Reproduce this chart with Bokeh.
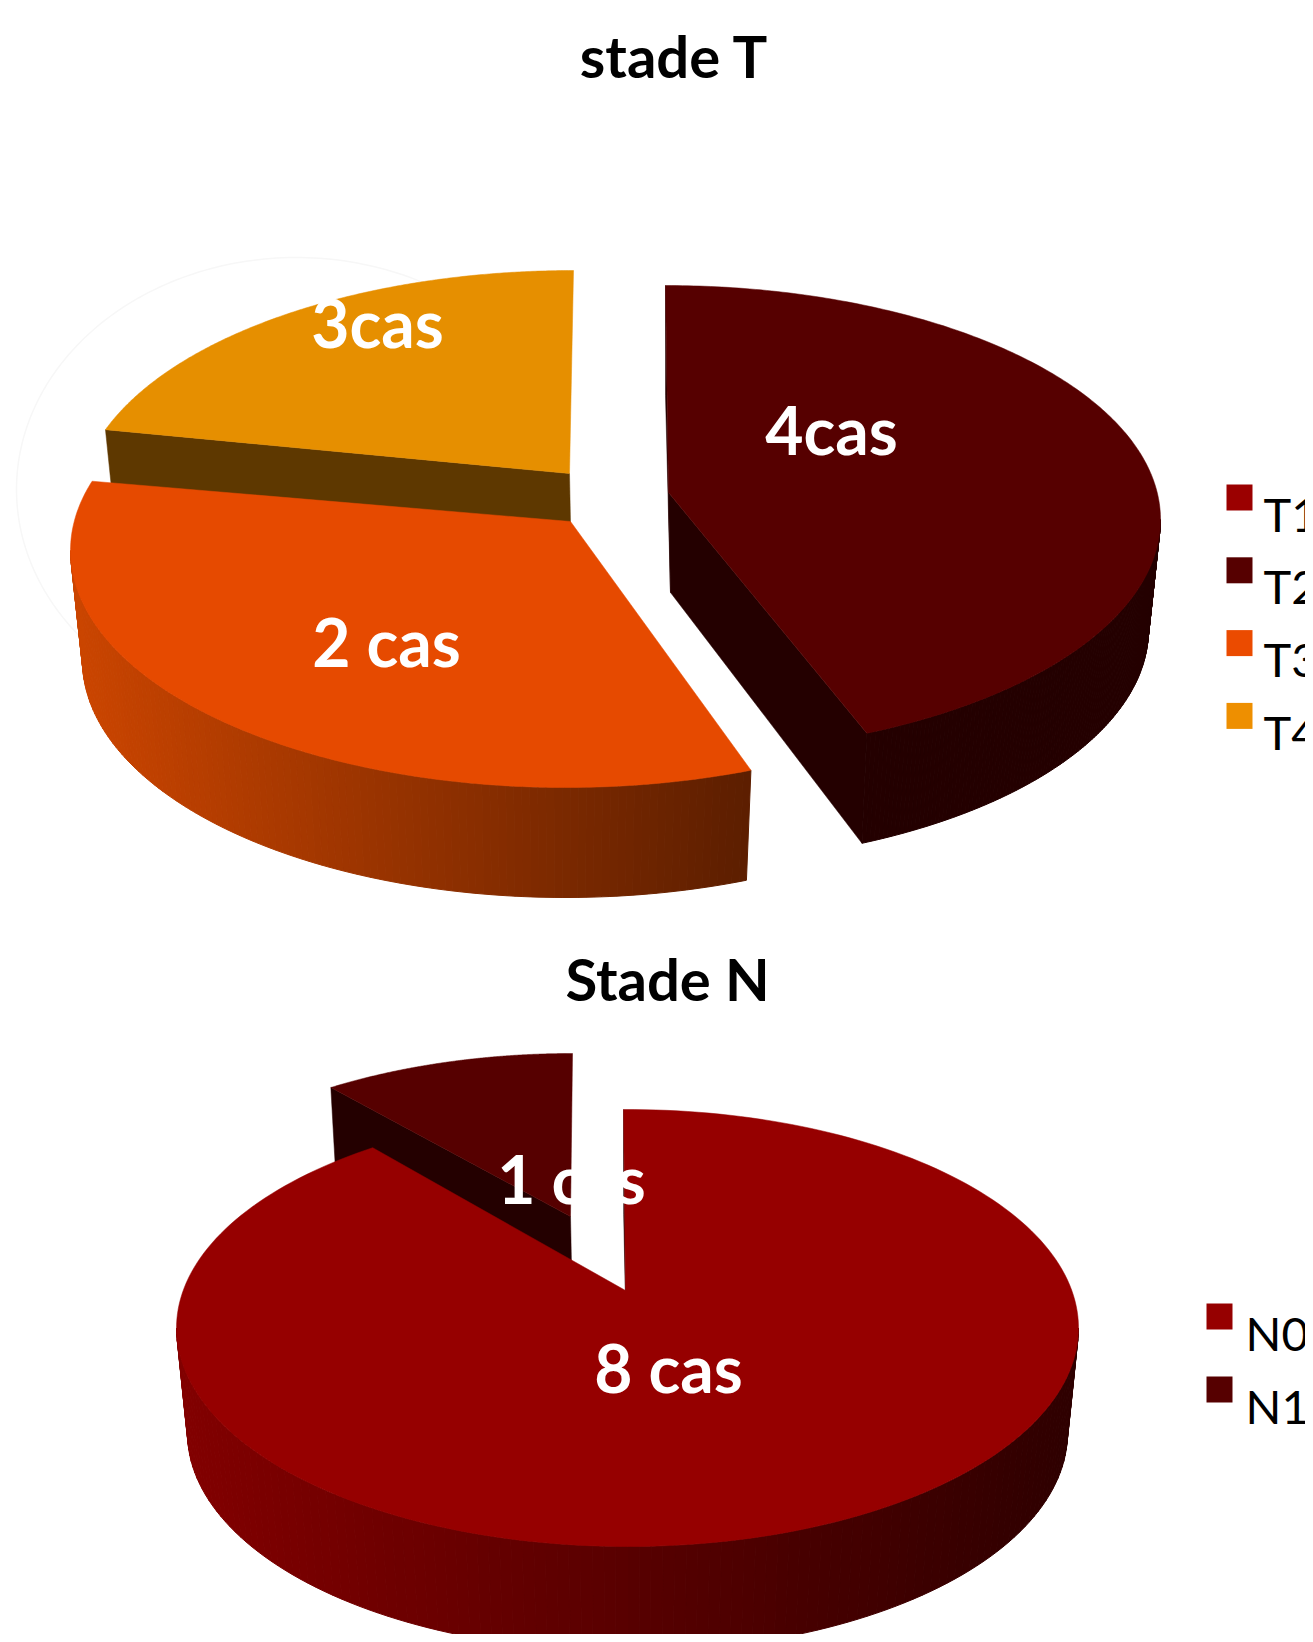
import numpy as np
from bokeh.plotting import figure
from bokeh.models import Range1d
from bokeh.core.properties import value
from bokeh.embed import file_html
from bokeh.resources import INLINE

# ---- data ----
T_NAMES = ["T1", "T2", "T3", "T4"]
T_VALUES = [0, 3.925, 3.25, 1.825]
T_LABELS = ["", "4cas", "2 cas", "3cas"]
T_COLORS = ["#9B0000", "#560000", "#E64A00", "#E68F00"]
T_LEGEND = ["#9B0000", "#560000", "#EB4B00", "#EE8F00"]
N_NAMES = ["N0", "N1"]
N_VALUES = [8.14, 0.86]
N_LABELS = ["8 cas", "1 cas"]
N_COLORS = ["#960000", "#560000"]
N_LEGEND = ["#960000", "#560000"]
TITLE_T = "stade T"
TITLE_N = "Stade N"

W, H = 1305, 1634
p = figure(width=W, height=H, output_backend="svg", toolbar_location=None,
           x_range=Range1d(8, 1313), y_range=Range1d(1642, 8),
           min_border=0, outline_line_color=None, background_fill_color="white")
p.axis.visible = False
p.grid.visible = False


def hex2rgb(h):
    return np.array([int(h[i:i + 2], 16) for i in (1, 3, 5)], float)


def mix(a, b, f):
    c = hex2rgb(a) * (1 - f) + hex2rgb(b) * f
    return "#%02x%02x%02x" % tuple(int(round(v)) for v in c)


def pts(cx, cy, rx, ry, t):
    t = np.radians(t)
    return cx + rx * np.sin(t), cy - ry * np.cos(t)


def draw_slice(val_start, val_end, total, g, color, wall_left, wall_right, cut_color, start_face, end_face):
    t0 = val_start / total * 360 + g["nudge"][0]
    t1 = val_end / total * 360 + g["nudge"][1]
    cx, cy = g["c"]
    ax, ay = g["apex"]
    rx, ry, rxb, drop = g["rx"], g["ry"], g["rxb"], g["drop"]
    abx, aby = ax + 2, ay + g["adrop"]
    ts = np.linspace(t0, t1, 240)
    # cut faces, seen only when they turn towards the viewer
    for on, t in ((start_face, t0), (end_face, t1)):
        if on:
            x, y = pts(cx, cy, rx, ry, t)
            xb, yb = pts(cx, cy + drop, rxb, ry, t)
            p.patch([ax, x, xb, abx], [ay, y, yb, aby], fill_color=cut_color,
                    line_color=cut_color, line_width=0.5)
    # outer wall: narrow strips shaded from left to right
    a, b = max(t0, 90), min(t1, 270)
    if b > a and wall_left:
        edges = np.linspace(a, b, 121)
        xs, ys, cols = [], [], []
        xl, xr = cx - rx, cx + g["shade_right"]
        for e0, e1 in zip(edges[:-1], edges[1:]):
            x0, y0 = pts(cx, cy, rx, ry, e0)
            x1, y1 = pts(cx, cy, rx, ry, e1)
            x2, y2 = pts(cx, cy + drop, rxb, ry, e1)
            x3, y3 = pts(cx, cy + drop, rxb, ry, e0)
            xs.append([x0, x1, x2, x3])
            ys.append([y0, y1, y2, y3])
            f = np.clip(((x0 + x1) / 2 - xl) / (xr - xl), 0, 1)
            cols.append(mix(wall_left, wall_right, f))
        p.patches(xs, ys, fill_color=cols, line_color=cols, line_width=1)
    # top surface
    x, y = pts(cx, cy, rx, ry, ts)
    p.patch(np.r_[ax, x], np.r_[ay, y], fill_color=color, line_color=color, line_width=0.5)


# faint ring behind the upper pie
rt = np.linspace(175, 425, 200)
rx_, ry_ = pts(304, 497, 280, 232, rt)
p.line(rx_, ry_, line_color="#f7f7f7", line_width=1.5)

T_TOTAL = sum(T_VALUES)
cum = np.cumsum([0] + T_VALUES)
T_GEOM = {
    1: dict(c=(673, 527), apex=(676, 500), rx=495, ry=234, rxb=483, drop=110, adrop=100, nudge=(0, -1), shade_right=0),
    2: dict(c=(573, 558), apex=(578, 529), rx=495, ry=237, rxb=483, drop=110, adrop=100, nudge=(1, 0), shade_right=185),
    3: dict(c=(581, 514), apex=(577, 481), rx=495, ry=236, rxb=483, drop=110, adrop=100, nudge=(2, 0), shade_right=0),
}
# back to front
draw_slice(cum[3], cum[4], T_TOTAL, T_GEOM[3], T_COLORS[3], None, None, "#5E3800", True, False)
draw_slice(cum[2], cum[3], T_TOTAL, T_GEOM[2], T_COLORS[2], "#CB4500", "#5C1E00", None, False, False)
draw_slice(cum[1], cum[2], T_TOTAL, T_GEOM[1], T_COLORS[1], "#240000", "#240000", "#240000", True, True)

N_TOTAL = sum(N_VALUES)
cum = np.cumsum([0] + N_VALUES)
N_GEOM = {
    0: dict(c=(635, 1335.5), apex=(633, 1298), rx=451, ry=218.5, rxb=440, drop=105, adrop=100, nudge=(-0.5, 0), shade_right=451),
    1: dict(c=(580, 1279.5), apex=(578, 1224), rx=451, ry=218.5, rxb=440, drop=105, adrop=100, nudge=(2, 0), shade_right=0),
}
draw_slice(cum[1], cum[2], N_TOTAL, N_GEOM[1], N_COLORS[1], None, None, "#240000", True, False)
draw_slice(cum[0], cum[1], N_TOTAL, N_GEOM[0], N_COLORS[0], "#820000", "#2E0000", "#240000", True, False)


def put_text(x, y, s, size, color, style="bold", font="Lato"):
    p.text([x], [y], text=[s], text_font=value(font), text_font_size=size, text_color=color,
           text_font_style=style, text_align="center", text_baseline="middle")


for (x, y), s in zip([(839, 437), (394, 649), (385, 330)], T_LABELS[1:]):
    put_text(x, y, s, "66px", "white")
for (x, y), s in zip([(676, 1375), (579, 1186)], N_LABELS):
    put_text(x, y, s, "66px", "white")
put_text(682, 63, TITLE_T, "58px", "black")
put_text(675, 986, TITLE_N, "58px", "black")


def legend(names, colors, x0, x1, y0, step, tx):
    for i, (n, c) in enumerate(zip(names, colors)):
        top = y0 + i * step
        p.quad(left=[x0], right=[x1], top=[top], bottom=[top + 26], fill_color=c, line_color=None)
        p.text([tx], [top + 29], text=[n], text_font=value("Lato"), text_font_size="47px", text_color="black",
               text_align="left", text_baseline="alphabetic")


legend(T_NAMES, T_LEGEND, 1234, 1260, 492, 72.8, 1271)
legend(N_NAMES, N_LEGEND, 1214, 1240, 1311, 73, 1253)

open("out.html", "w").write(file_html(p, INLINE))
